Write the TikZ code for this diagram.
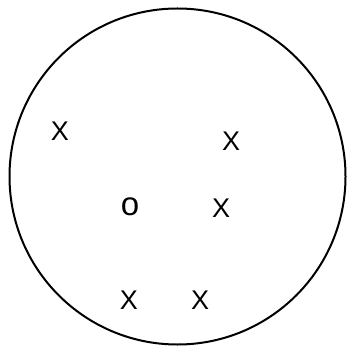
\documentclass[tikz,border=0pt]{standalone}
\usepackage{fontspec}
\setmainfont{Liberation Sans}
\begin{document}
\begin{tikzpicture}[x=1pt,y=-1pt,
  xmark/.style={inner sep=0pt,font=\fontsize{27}{27}\selectfont},
  omark/.style={inner sep=0pt,font=\fontsize{33}{33}\selectfont}]
\useasboundingbox (0,0) rectangle (352,352);
\node[draw,circle,line width=2pt,minimum size=336pt,inner sep=0pt] (c) at (177.5,176.5) {};
\node[xmark] (x1) at (60,131) {X};
\node[xmark] (x2) at (231,141) {X};
\node[omark] (o1) at (130,207) {o};
\node[xmark] (x3) at (221,208) {X};
\node[xmark] (x4) at (129,300) {X};
\node[xmark] (x5) at (200,300) {X};
\end{tikzpicture}
\end{document}
